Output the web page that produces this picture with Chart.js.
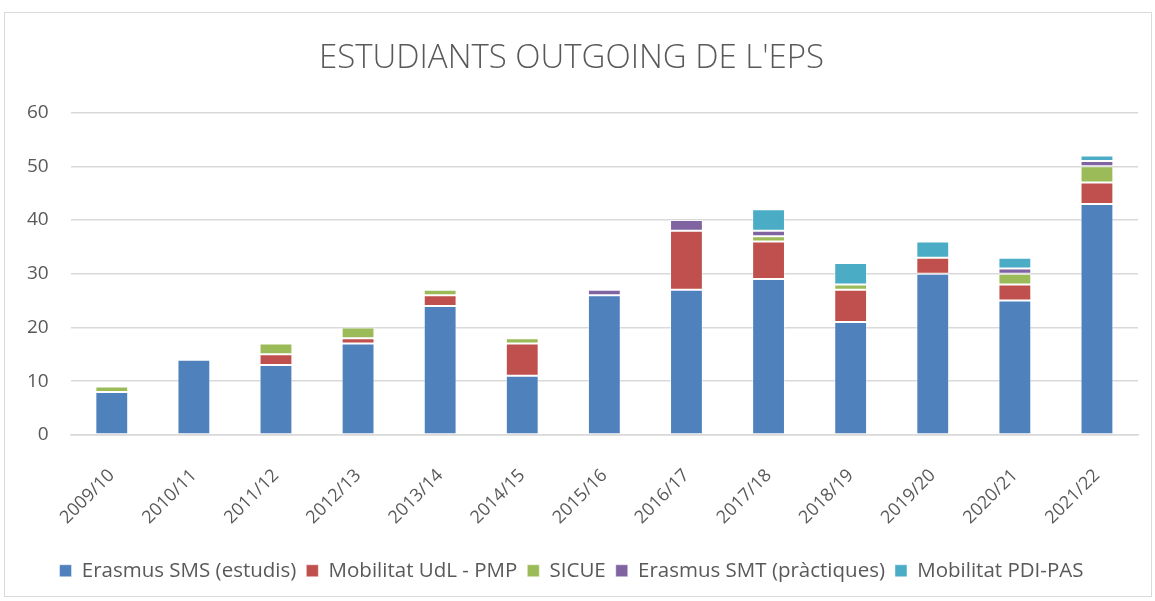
<!DOCTYPE html>
<html>
<head>
<meta charset="utf-8">
<script src="https://cdn.jsdelivr.net/npm/chart.js@4/dist/chart.umd.min.js"></script>
<style>
  html, body { margin:0; padding:0; background:#fff; }
  #box { position:absolute; left:4px; top:12px; width:1148px; height:585px; border:1px solid #d9d9d9; box-sizing:border-box; }
  canvas { display:block; }
</style>
</head>
<body>
<div id="box"><canvas id="c"></canvas></div>
<script>
  // ===== data =====
  const years = ['2009/10','2010/11','2011/12','2012/13','2013/14','2014/15','2015/16','2016/17','2017/18','2018/19','2019/20','2020/21','2021/22'];
  const erasmusSMS = [8, 14, 13, 17, 24, 11, 26, 27, 29, 21, 30, 25, 43];
  const mobilitatPMP = [0, 0, 2, 1, 2, 6, 0, 11, 7, 6, 3, 3, 4];
  const sicue = [1, 0, 2, 2, 1, 1, 0, 0, 1, 1, 0, 2, 3];
  const erasmusSMT = [0, 0, 0, 0, 0, 0, 1, 2, 1, 0, 0, 1, 1];
  const mobilitatPDI = [0, 0, 0, 0, 0, 0, 0, 0, 4, 4, 3, 2, 1];
  const yTicks = [0, 10, 20, 30, 40, 50, 60];

  const FONT = '"Open Sans", sans-serif';
  const TXT = '#595959';

  function ds(label, data, color){
    return { label, data, backgroundColor: color, borderColor: 'rgba(255,255,255,0.45)', borderWidth: 1, borderSkipped: false };
  }

  new Chart(document.getElementById('c'), {
    type: 'bar',
    data: {
      labels: years,
      datasets: [
        ds('Erasmus SMS (estudis)', erasmusSMS, '#4f81bd'),
        ds('Mobilitat UdL - PMP', mobilitatPMP, '#c0504d'),
        ds('SICUE', sicue, '#9bbb59'),
        ds('Erasmus SMT (pràctiques)', erasmusSMT, '#8064a2'),
        ds('Mobilitat PDI-PAS', mobilitatPDI, '#4bacc6')
      ]
    },
    options: {
      responsive: true,
      maintainAspectRatio: false,
      animation: false,
      datasets: { bar: { categoryPercentage: 1, barPercentage: 0.4 } },
      layout: { padding: { left: 0, right: 13, top: 8, bottom: 5 } },
      plugins: {
        title: { display: true, text: "ESTUDIANTS OUTGOING DE L'EPS", color: TXT,
          font: { family: FONT, size: 33, weight: '300' }, padding: { top: 18, bottom: 34 } },
        legend: { position: 'bottom',
          labels: { color: TXT, font: { family: FONT, size: 20.5 }, boxWidth: 12, boxHeight: 12, padding: 10 } },
        tooltip: { enabled: false }
      },
      scales: {
        x: { stacked: true,
          grid: { display: false },
          border: { color: '#d9d9d9', width: 1.5 },
          ticks: { color: TXT, font: { family: FONT, size: 18 }, minRotation: 45, maxRotation: 45, padding: 22 } },
        y: { stacked: true, min: 0, max: 60,
          afterBuildTicks: (axis) => { axis.ticks = yTicks.map(v => ({ value: v })); },
          grid: { color: '#d9d9d9', lineWidth: 1.5, drawTicks: false },
          border: { display: false },
          ticks: { color: TXT, font: { family: FONT, size: 19 }, padding: 22 } }
      }
    }
  });
</script>
</body>
</html>
